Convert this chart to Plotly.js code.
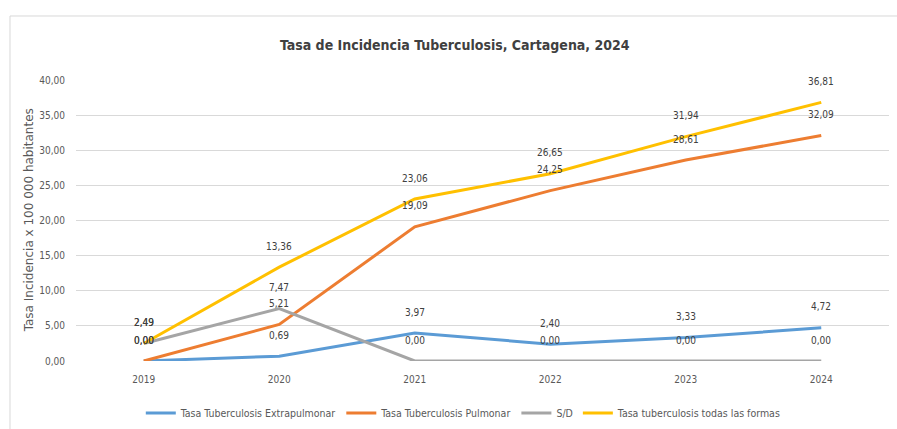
<!DOCTYPE html>
<html><head><meta charset="utf-8">
<script src="https://cdn.plot.ly/plotly-3.0.1.min.js"></script>
<style>html,body{margin:0;padding:0;background:#fff}#c{width:897px;height:429px}</style>
</head><body><div id="c"></div>
<script>
const years = ['2019','2020','2021','2022','2023','2024'];
const extrapulmonar = [0.00, 0.69, 3.97, 2.40, 3.33, 4.72];
const pulmonar = [0.00, 5.21, 19.09, 24.25, 28.61, 32.09];
const sinDato = [2.49, 7.47, 0.00, 0.00, 0.00, 0.00];
const todas = [2.49, 13.36, 23.06, 26.65, 31.94, 36.81];
const names = ['Tasa Tuberculosis Extrapulmonar','Tasa Tuberculosis Pulmonar','S/D','Tasa tuberculosis todas las formas'];
const colors = ['#5b9bd5','#ed7d31','#a5a5a5','#ffc000'];
const seriesList = [extrapulmonar, pulmonar, sinDato, todas];

const font = 'DejaVu Sans Condensed, Liberation Sans Narrow, sans-serif';
const traces = seriesList.map((s,i)=>({
  x: years, y: s, type:'scatter', mode:'lines', name: names[i],
  line:{color:colors[i], width:3}, hoverinfo:'skip'
}));
const fmt = v => v.toFixed(2).replace('.', ',');
const annotations = [];
seriesList.forEach((s,i)=>{
  s.forEach((v,j)=>{
    annotations.push({x: j, y: v, xref:'x', yref:'y', text: fmt(v), showarrow:false,
      yshift: 21, font:{family:font, size:10, color:'#404040'}});
  });
});
annotations.push({xref:'paper', yref:'paper', x:-0.058, xanchor:'center', y:0.5, text:'Tasa Incidencia x 100 000 habitantes',
  textangle:-90, showarrow:false, font:{family:'DejaVu Sans, sans-serif', size:12, color:'#595959'}});

const layout = {
  width:897, height:429,
  margin:{l:76, r:8, t:80, b:68, autoexpand:false},
  paper_bgcolor:'#fff', plot_bgcolor:'#fff',
  separators: ',.',
  title:{text:'<b>Tasa de Incidencia Tuberculosis, Cartagena, 2024</b>', x:0.507, xanchor:'center', y:0.895, yanchor:'middle',
    font:{family:font, size:14, color:'#404040'}},
  xaxis:{type:'category', range:[-0.5,5.5], showgrid:false, zeroline:false, showline:false, ticks:'',
    tickfont:{family:font, size:10, color:'#595959'}, ticklabelstandoff:11},
  yaxis:{range:[0,40], dtick:5, tickformat:'.2f', showgrid:true, gridcolor:'#d9d9d9', gridwidth:1,
    zeroline:false, showline:false, ticks:'', ticklabelstandoff:10,
    tickfont:{family:font, size:10, color:'#595959'}},
  showlegend:true,
  legend:{orientation:'h', x:0.477, xanchor:'center', y:-0.185, yanchor:'middle',
    font:{family:font, size:10.5, color:'#595959'}, itemwidth:30, tracegroupgap:0},
  annotations: annotations,
  shapes:[
    {type:'line', xref:'paper', yref:'paper', x0:-0.0812, x1:1.02, y0:1.2278, y1:1.2278, line:{color:'#d9d9d9', width:1}},
    {type:'line', xref:'paper', yref:'paper', x0:-0.0812, x1:-0.0812, y0:1.2278, y1:-0.3, line:{color:'#d9d9d9', width:1}}
  ]
};
Plotly.newPlot('c', traces, layout, {displayModeBar:false, staticPlot:true});
</script></body></html>
